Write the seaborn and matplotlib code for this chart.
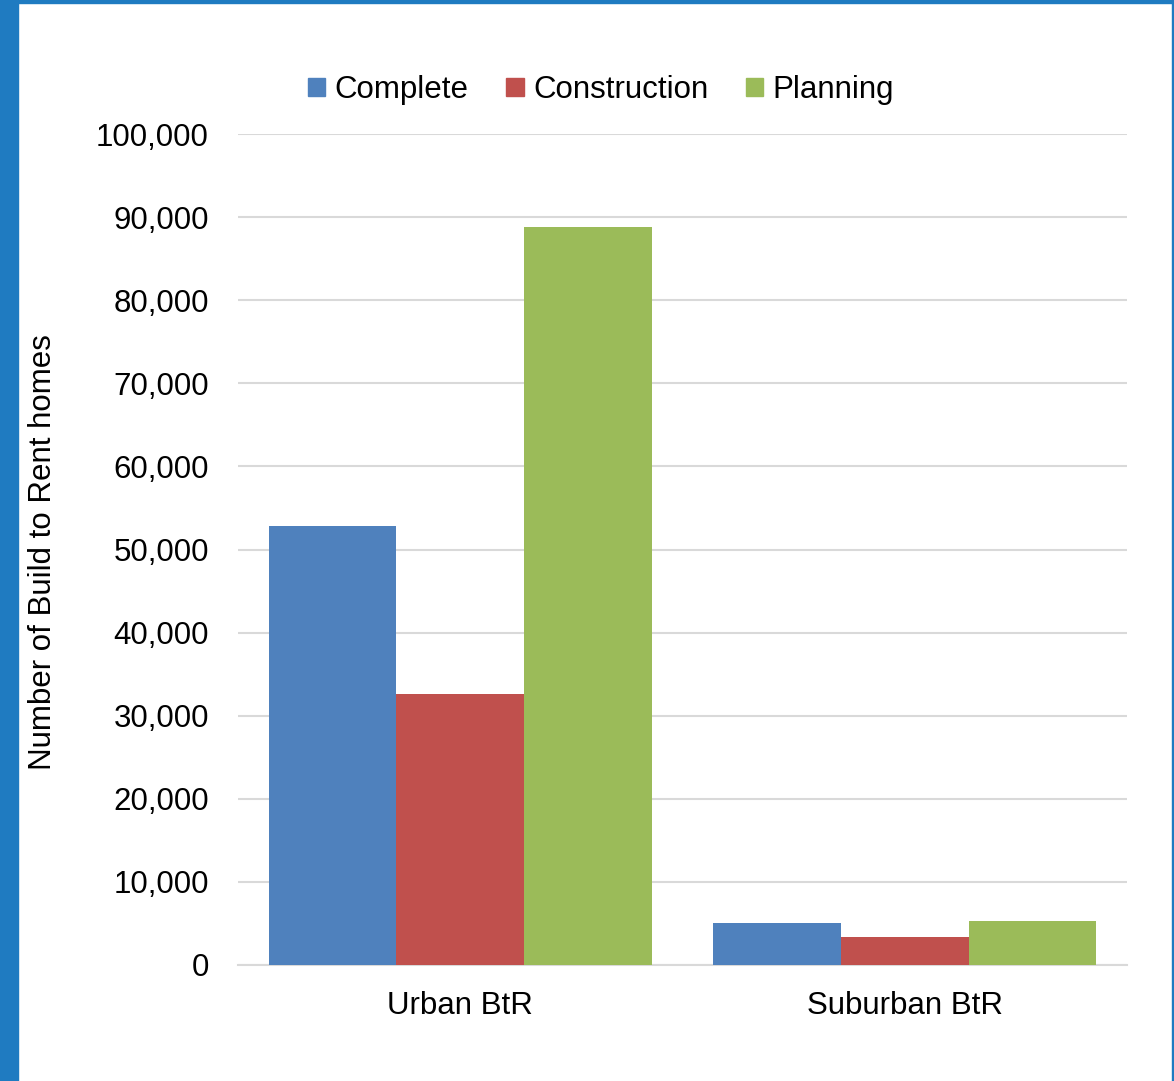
import matplotlib
matplotlib.use("Agg")
import matplotlib.pyplot as plt
import matplotlib.patches as mpatches
import matplotlib.ticker as mticker
import seaborn as sns
import pandas as pd

categories = ["Urban BtR", "Suburban BtR"]
series = ["Complete", "Construction", "Planning"]
complete = [52800, 5100]
construction = [32600, 3400]
planning = [88800, 5250]
colors = ["#4F81BD", "#C0504D", "#9BBB59"]

rows = []
for i, c in enumerate(categories):
    for s, vals in zip(series, [complete, construction, planning]):
        rows.append({"category": c, "status": s, "value": vals[i]})
df = pd.DataFrame(rows)

sns.set_theme(style="white")
plt.rcParams["font.family"] = ["Liberation Sans", "DejaVu Sans"]
plt.rcParams["text.color"] = "black"
plt.rcParams["axes.labelcolor"] = "black"

FS = 22.5

fig = plt.figure(figsize=(11.74, 10.81), dpi=100)
ax = fig.add_axes([238/1174, (1081-965)/1081, (1127-238)/1174, (965-134)/1081])

sns.barplot(data=df, x="category", y="value", hue="status", order=categories,
            hue_order=series, palette=colors, width=0.862, saturation=1,
            edgecolor="none", linewidth=0, ax=ax, legend=False, zorder=3)

ax.set_ylim(0, 100000)
ax.set_xlim(-0.5, 1.5)
ax.yaxis.set_major_locator(mticker.MultipleLocator(10000))
ax.yaxis.set_major_formatter(mticker.FuncFormatter(lambda v, p: f"{int(v):,}"))
ax.grid(axis="y", color="#D9D9D9", linewidth=1.5, zorder=0)
ax.set_axisbelow(True)
for sp in ["top", "right", "left"]:
    ax.spines[sp].set_visible(False)
ax.spines["bottom"].set_color("#D9D9D9")
ax.spines["bottom"].set_linewidth(1.5)
ax.tick_params(axis="both", length=0, labelsize=FS, colors="black")
ax.tick_params(axis="y", pad=21)
ax.tick_params(axis="x", pad=19)
ax.set_xlabel("")
ax.set_ylabel("Number of Build to Rent homes", fontsize=FS, color="black")
ax.yaxis.set_label_coords((58 - 238) / 889, 0.497)

handles = [mpatches.Patch(color=c, label=s) for c, s in zip(colors, series)]
leg = fig.legend(handles=handles, loc="center", bbox_to_anchor=(601/1174, 1 - 90/1081),
                 ncol=3, frameon=False, fontsize=FS, handlelength=0.55, handleheight=0.55,
                 handletextpad=0.3, columnspacing=1.2, labelcolor="black")

# border frame
border = "#1F7BC1"
fig.patches.append(mpatches.Rectangle((0, 0), 18/1174, 1, transform=fig.transFigure,
                                      color=border, zorder=10))
fig.patches.append(mpatches.Rectangle((0, 1 - 3/1081), 1, 3/1081, transform=fig.transFigure,
                                      color=border, zorder=10))
fig.patches.append(mpatches.Rectangle((1 - 2/1174, 0), 2/1174, 1, transform=fig.transFigure,
                                      color=border, zorder=10))

fig.savefig("out.png", dpi=100, facecolor="white")
